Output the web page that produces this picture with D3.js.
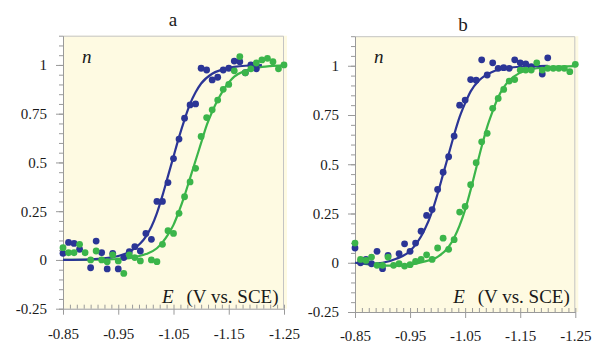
<!DOCTYPE html>
<html>
<head>
<meta charset="utf-8">
<script src="https://cdn.jsdelivr.net/npm/d3@7"></script>
<style>
    html, body { margin: 0; padding: 0; background: #ffffff; }
    svg { display: block; font-family: "Liberation Serif", "Times New Roman", serif; }
</style>
</head>
<body>
<svg id="chart" width="592" height="344"></svg>
<script>
// axis ticks
const E_TICKS = [-0.85, -0.95, -1.05, -1.15, -1.25];
const E_TICK_LABELS = ["-0.85", "-0.95", "-1.05", "-1.15", "-1.25"];
const N_TICKS = [-0.25, 0, 0.25, 0.5, 0.75, 1];
const N_TICK_LABELS = ["-0.25", "0", "0.25", "0.5", "0.75", "1"];
const PANEL_TITLES = ["a", "b"];

// panel a: measured points [E, n]
const blueA = [
    [-0.85, 0.034], [-0.86, 0.09], [-0.87, 0.085], [-0.88, 0.055], [-0.90, -0.04],
    [-0.91, 0.097], [-0.92, 0.037], [-0.93, -0.046], [-0.94, 0.034], [-0.95, -0.046],
    [-0.96, 0.012], [-0.97, 0.042], [-0.98, 0.068], [-0.99, 0.046], [-1.00, 0.136],
    [-1.01, 0.106], [-1.02, 0.30], [-1.03, 0.30], [-1.04, 0.397], [-1.05, 0.52],
    [-1.06, 0.62], [-1.07, 0.727], [-1.08, 0.795], [-1.09, 0.80], [-1.10, 0.983],
    [-1.11, 0.974], [-1.12, 0.923], [-1.13, 0.937], [-1.14, 0.974], [-1.15, 0.983],
    [-1.16, 1.02], [-1.17, 1.017], [-1.18, 0.96], [-1.19, 1.0], [-1.20, 0.98],
];
const greenA = [
    [-0.85, 0.063], [-0.86, 0.037], [-0.87, 0.037], [-0.88, 0.08], [-0.89, 0.037],
    [-0.90, 0.0], [-0.91, 0.046], [-0.92, 0.0], [-0.93, -0.009], [-0.94, 0.026],
    [-0.95, -0.005], [-0.96, -0.069], [-0.97, 0.026], [-0.98, 0.012], [-0.99, -0.005],
    [-1.01, 0.0], [-1.02, -0.009], [-1.03, 0.08], [-1.04, 0.15], [-1.05, 0.136],
    [-1.06, 0.239], [-1.07, 0.324], [-1.08, 0.40], [-1.09, 0.47], [-1.10, 0.633],
    [-1.11, 0.73], [-1.12, 0.77], [-1.13, 0.82], [-1.14, 0.875], [-1.15, 0.90],
    [-1.16, 0.97], [-1.17, 1.043], [-1.18, 0.96], [-1.19, 0.98], [-1.20, 1.01],
    [-1.21, 1.026], [-1.22, 1.034], [-1.23, 1.017], [-1.24, 0.98], [-1.25, 1.0],
];
// panel a: fitted curves
const blueFitA = [
    [-0.85, 0.0], [-0.90, 0.003], [-0.95, 0.02], [-0.975, 0.05], [-1.00, 0.12],
    [-1.01, 0.17], [-1.02, 0.24], [-1.03, 0.33], [-1.04, 0.43], [-1.05, 0.53],
    [-1.06, 0.63], [-1.07, 0.72], [-1.08, 0.80], [-1.09, 0.86], [-1.10, 0.905],
    [-1.12, 0.955], [-1.14, 0.978], [-1.16, 0.99], [-1.18, 0.996], [-1.21, 0.999],
];
const greenFitA = [
    [-0.85, 0.0], [-0.90, 0.001], [-0.95, 0.005], [-0.975, 0.012], [-1.00, 0.03],
    [-1.02, 0.06], [-1.04, 0.13], [-1.05, 0.18], [-1.06, 0.25], [-1.07, 0.33],
    [-1.08, 0.42], [-1.09, 0.51], [-1.10, 0.60], [-1.11, 0.69], [-1.12, 0.76],
    [-1.13, 0.82], [-1.14, 0.87], [-1.15, 0.91], [-1.16, 0.94], [-1.18, 0.97],
    [-1.20, 0.985], [-1.225, 0.994], [-1.25, 0.998],
];

// panel b: measured points [E, n]
const blueB = [
    [-0.85, 0.075], [-0.86, 0.0], [-0.87, 0.017], [-0.88, -0.005], [-0.89, 0.058],
    [-0.90, -0.03], [-0.91, 0.037], [-0.93, 0.046], [-0.94, 0.096], [-0.95, 0.058],
    [-0.96, 0.10], [-0.97, 0.16], [-0.98, 0.24], [-0.99, 0.27], [-1.00, 0.372],
    [-1.01, 0.46], [-1.02, 0.538], [-1.03, 0.643], [-1.04, 0.80], [-1.05, 0.826],
    [-1.06, 0.93], [-1.07, 0.927], [-1.08, 1.03], [-1.09, 0.953], [-1.10, 1.015],
    [-1.11, 0.987], [-1.12, 0.99], [-1.13, 0.987], [-1.14, 1.03], [-1.15, 1.015],
    [-1.16, 1.01], [-1.17, 0.995], [-1.19, 0.958], [-1.20, 1.04],
];
const greenB = [
    [-0.85, 0.10], [-0.86, 0.017], [-0.87, 0.012], [-0.88, 0.029], [-0.89, -0.013],
    [-0.90, -0.013], [-0.91, 0.029], [-0.92, -0.013], [-0.93, -0.005], [-0.94, -0.017],
    [-0.95, -0.01], [-0.96, 0.007], [-0.97, 0.017], [-0.98, 0.04], [-0.99, 0.017],
    [-1.00, 0.075], [-1.01, 0.125], [-1.02, 0.068], [-1.03, 0.117], [-1.04, 0.257],
    [-1.05, 0.286], [-1.06, 0.396], [-1.07, 0.508], [-1.08, 0.614], [-1.09, 0.657],
    [-1.10, 0.784], [-1.11, 0.834], [-1.12, 0.88], [-1.13, 0.922], [-1.14, 0.93],
    [-1.15, 0.978], [-1.16, 0.978], [-1.17, 0.978], [-1.18, 1.015], [-1.19, 0.978],
    [-1.20, 0.987], [-1.21, 0.987], [-1.22, 0.987], [-1.23, 0.987], [-1.24, 0.97],
    [-1.25, 1.007],
];
// panel b: fitted curves
const blueFitB = [
    [-0.85, 0.0], [-0.875, -0.005], [-0.90, 0.0], [-0.925, 0.02], [-0.95, 0.06],
    [-0.975, 0.16], [-0.99, 0.26], [-1.00, 0.35], [-1.01, 0.45], [-1.02, 0.55],
    [-1.03, 0.65], [-1.04, 0.74], [-1.05, 0.81], [-1.06, 0.87], [-1.075, 0.925],
    [-1.10, 0.97], [-1.125, 0.988], [-1.15, 0.995], [-1.20, 0.999],
];
const greenFitB = [
    [-0.85, 0.0], [-0.875, -0.008], [-0.90, -0.015], [-0.925, -0.015], [-0.95, -0.01],
    [-0.975, 0.005], [-1.00, 0.03], [-1.02, 0.08], [-1.04, 0.19], [-1.05, 0.27],
    [-1.06, 0.37], [-1.07, 0.48], [-1.08, 0.59], [-1.09, 0.69], [-1.10, 0.77],
    [-1.11, 0.84], [-1.12, 0.89], [-1.13, 0.925], [-1.15, 0.965], [-1.175, 0.985],
    [-1.20, 0.993], [-1.25, 0.998],
];

const COLORS = {
    background: "#fefae2",
    frame: "#c4c4c4",
    axis: "#9a9a9a",
    text: "#1a1a1a",
    blue: "#2b3596",
    green: "#3bb54a",
};

const E_DOMAIN = [-0.85, -1.25];
const N_DOMAIN = [-0.25, 1.15];
const DOT_RADIUS = 3.4;

const panels = [
    { left: 63, right: 284, top: 35.7, bottom: 308.7, labelPad: 14, titleX: 173, titleY: 26,
      blue: blueA, green: greenA, blueFit: blueFitA, greenFit: greenFitA },
    { left: 355, right: 575.3, top: 36.2, bottom: 312, labelPad: 12, titleX: 463, titleY: 31,
      blue: blueB, green: greenB, blueFit: blueFitB, greenFit: greenFitB },
];

const svg = d3.select("#chart");

const minorN = d3.range(0, 29).map((i) => N_DOMAIN[0] + i * 0.05);
const minorE = d3.range(0, 33).map((i) => E_DOMAIN[0] - i * 0.0125);

function styleAxis(axis) {
    axis.selectAll(".domain, .tick line").attr("stroke", COLORS.axis).attr("stroke-width", 1);
    axis.selectAll(".tick text")
        .attr("fill", COLORS.text)
        .style("font-size", "15px")
        .style("font-family", "'Liberation Serif', serif");
}

function drawPanel(p, index) {
    const x = d3.scaleLinear().domain(E_DOMAIN).range([p.left, p.right]);
    const y = d3.scaleLinear().domain(N_DOMAIN).range([p.bottom, p.top]);
    const g = svg.append("g").attr("class", "panel");

    g.append("rect")
        .attr("x", x(E_DOMAIN[0]))
        .attr("y", y(N_DOMAIN[1]))
        .attr("width", x(E_DOMAIN[1]) - x(E_DOMAIN[0]) + 3)
        .attr("height", y(N_DOMAIN[0]) - y(N_DOMAIN[1]))
        .attr("fill", COLORS.background);

    g.append("path")
        .attr("d", `M${x(E_DOMAIN[0])},${y(N_DOMAIN[1]) + 0.5}H${x(E_DOMAIN[1]) - 0.5}V${y(N_DOMAIN[0])}`)
        .attr("fill", "none")
        .attr("stroke", COLORS.frame)
        .attr("stroke-width", 1);

    // y axis: minor + major ticks
    g.append("g")
        .attr("transform", `translate(${x(E_DOMAIN[0])},0)`)
        .call(d3.axisLeft(y).tickValues(minorN).tickSize(4).tickSizeOuter(0).tickFormat(""))
        .call(styleAxis);
    g.append("g")
        .attr("transform", `translate(${x(E_DOMAIN[0])},0)`)
        .call(d3.axisLeft(y).tickValues(N_TICKS).tickSize(7).tickPadding(9)
            .tickFormat((d, i) => N_TICK_LABELS[i]))
        .call((axis) => axis.select(".domain").remove())
        .call(styleAxis);

    // x axis: minor ticks inward, major ticks outward
    g.append("g")
        .attr("transform", `translate(0,${y(N_DOMAIN[0])})`)
        .call(d3.axisBottom(x).tickValues(minorE).tickSize(-4).tickSizeOuter(0).tickFormat(""))
        .call(styleAxis);
    g.append("g")
        .attr("transform", `translate(0,${y(N_DOMAIN[0])})`)
        .call(d3.axisBottom(x).tickValues(E_TICKS).tickSize(6).tickPadding(p.labelPad)
            .tickFormat((d, i) => E_TICK_LABELS[i]))
        .call((axis) => axis.select(".domain").remove())
        .call(styleAxis);

    const line = d3.line()
        .x((d) => x(d[0]))
        .y((d) => y(d[1]))
        .curve(d3.curveMonotoneX);

    [["green", p.greenFit], ["blue", p.blueFit]].forEach(([key, fit]) => {
        g.append("path")
            .datum(fit)
            .attr("d", line)
            .attr("fill", "none")
            .attr("stroke", COLORS[key])
            .attr("stroke-width", 2.2);
    });

    [["blue", p.blue], ["green", p.green]].forEach(([key, pts]) => {
        g.append("g")
            .selectAll("circle")
            .data(pts)
            .enter()
            .append("circle")
            .attr("cx", (d) => x(d[0]))
            .attr("cy", (d) => y(d[1]))
            .attr("r", DOT_RADIUS)
            .attr("fill", COLORS[key]);
    });

    g.append("text")
        .attr("x", p.titleX)
        .attr("y", p.titleY)
        .attr("text-anchor", "middle")
        .attr("fill", COLORS.text)
        .style("font-size", "19px")
        .text(PANEL_TITLES[index]);

    g.append("text")
        .attr("x", x(E_DOMAIN[0]) + 19)
        .attr("y", 63)
        .attr("fill", COLORS.text)
        .style("font-size", "19px")
        .style("font-style", "italic")
        .text("n");

    g.append("text")
        .attr("x", x(E_DOMAIN[1]) - 122)
        .attr("y", 302.5)
        .attr("fill", COLORS.text)
        .style("font-size", "19px")
        .style("font-style", "italic")
        .text("E");

    g.append("text")
        .attr("x", x(E_DOMAIN[1]) - 5.5)
        .attr("y", 302.5)
        .attr("text-anchor", "end")
        .attr("fill", COLORS.text)
        .style("font-size", "19px")
        .text("(V vs. SCE)");
}

panels.forEach(drawPanel);
</script>
</body>
</html>
